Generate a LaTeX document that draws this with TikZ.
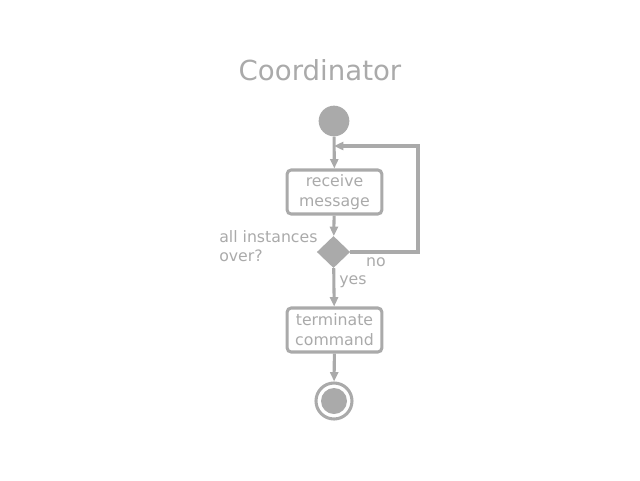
\documentclass[tikz,border=0pt]{standalone}
\usepackage{fontspec}
\setmainfont{DejaVu Sans}
\usetikzlibrary{arrows.meta,shapes.geometric}
\definecolor{fg}{HTML}{AAAAAA}
\tikzset{
  px/.style={x=0.75pt,y=-0.75pt},
  flow/.style={draw=fg,line width=2.3pt,-{Triangle[length=7pt,width=6pt]}},
  actbox/.style={draw=fg,fill=white,line width=2.3pt,rounded corners=3pt,minimum width=71pt,minimum height=33pt,inner sep=0pt,align=center,text=fg,font=\fontsize{11.8pt}{15pt}\selectfont},
  lbl/.style={text=fg,font=\fontsize{11.8pt}{14.5pt}\selectfont,inner sep=0pt},
}
\begin{document}
\begin{tikzpicture}[px]
\useasboundingbox (0,0) rectangle (640,480);
\node[text=fg,font=\fontsize{20.7pt}{24pt}\selectfont] (title) at (320,70) {Coordinator};
\node[circle,fill=fg,minimum size=23pt,inner sep=0pt] (start) at (334,121) {};
\node[actbox] (recv) at (334.5,192) {receive\\message};
\node[diamond,fill=fg,minimum width=25pt,minimum height=24pt,inner sep=0pt] (dec) at (333.5,252) {};
\node[actbox] (term) at (334.5,330) {terminate\\command};
\node[circle,draw=fg,line width=2.3pt,minimum size=27pt,inner sep=0pt] (endc) at (334,401) {};
\node[circle,fill=fg,minimum size=19.5pt,inner sep=0pt] (endin) at (334,401) {};
\coordinate (c1) at (418,252);
\coordinate (c2) at (418,146);
\coordinate (c3) at (334,146);
\draw[flow] (start) -- (recv);
\draw[flow] (recv) -- (dec);
\draw[flow] (dec) -- (term);
\draw[flow] (term) -- (endc);
\draw[flow,line join=miter] (dec.east) -- (c1) -- (c2) -- (c3);
\node[lbl,anchor=west,align=left] (q) at (219,246) {all instances\\over?};
\node[lbl] (no) at (376,262) {no};
\node[lbl] (yes) at (353,282) {yes};
\end{tikzpicture}
\end{document}
